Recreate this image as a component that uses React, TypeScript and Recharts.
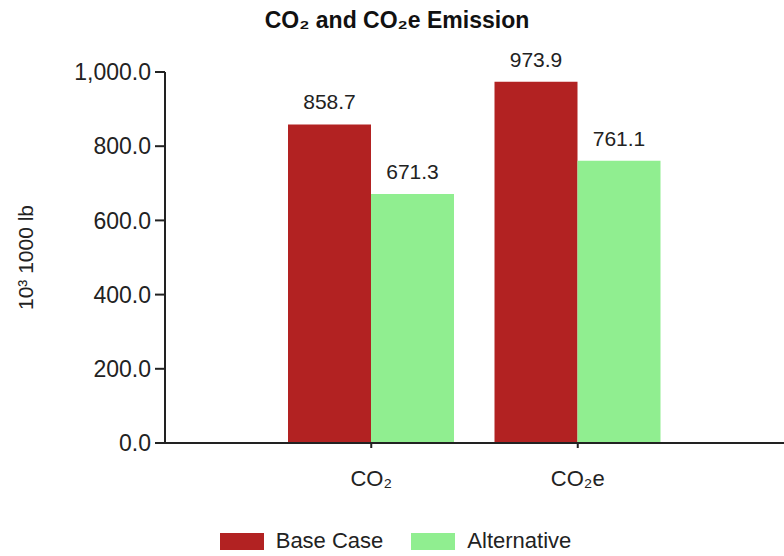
import * as React from "react";
import { Bar, BarChart, LabelList, Legend, XAxis, YAxis, Label } from "recharts";

const categories = ["CO₂", "CO₂e"];
const baseCase = [858.7, 973.9];
const alternative = [671.3, 761.1];
const yTicks = [0, 200, 400, 600, 800, 1000];

const data = categories.map((name, i) => ({
    name,
    base: baseCase[i],
    alt: alternative[i],
}));

const font = "'Liberation Sans', Arial, sans-serif";
const RED = "#B22222";
const GREEN = "#90EE90";

const fmt = (v: number) =>
    v.toLocaleString("en-US", { minimumFractionDigits: 1, maximumFractionDigits: 1 });

const YLabel = (props: any) => {
    const vb = props.viewBox || {};
    const cy = (vb.y || 0) + (vb.height || 0) / 2;
    return (
        <text
            x={25}
            y={cy}
            transform={`rotate(-90, 25, ${cy})`}
            textAnchor="middle"
            dominantBaseline="central"
            fontSize={21}
            fontFamily={font}
            fill="#222"
        >
            10³ 1000 lb
        </text>
    );
};

const LegendBox = () => {
    const items = [
        { label: "Base Case", color: RED },
        { label: "Alternative", color: GREEN },
    ];
    return (
        <div
            style={{
                display: "flex",
                justifyContent: "center",
                alignItems: "center",
                paddingLeft: 7,
                fontFamily: font,
                fontSize: 22,
                color: "#222",
            }}
        >
            {items.map((it, i) => (
                <div
                    key={it.label}
                    style={{ display: "flex", alignItems: "center", marginLeft: i ? 28 : 0 }}
                >
                    <div style={{ width: 44, height: 17, background: it.color, marginRight: 12 }} />
                    <span>{it.label}</span>
                </div>
            ))}
        </div>
    );
};

export default function App() {
    return (
        <div style={{ position: "absolute", left: 0, top: 0, background: "#fff" }}>
            <div
                style={{
                    position: "absolute",
                    left: 0,
                    top: 7,
                    width: 784,
                    textAlign: "center",
                    fontFamily: font,
                    fontWeight: "bold",
                    fontSize: 23,
                    color: "#111",
                    paddingLeft: 10,
                    boxSizing: "border-box",
                }}
            >
                CO₂ and CO₂e Emission
            </div>
            <BarChart
                width={784}
                height={556}
                data={data}
                margin={{ top: 72, right: 0, left: 0, bottom: 73 }}
                barCategoryGap={20}
                barGap={0}
            >
                <XAxis
                    dataKey="name"
                    height={40}
                    padding={{ left: 103, right: 103 }}
                    tickSize={5}
                    tickMargin={22}
                    axisLine={{ stroke: "#222", strokeWidth: 2 }}
                    tickLine={{ stroke: "#222", strokeWidth: 2 }}
                    tick={{ fontSize: 22, fontFamily: font, fill: "#222" }}
                />
                <YAxis
                    width={165}
                    domain={[0, 1000]}
                    ticks={yTicks}
                    interval={0}
                    tickFormatter={fmt}
                    tickSize={10}
                    tickMargin={4}
                    axisLine={{ stroke: "#222", strokeWidth: 2 }}
                    tickLine={{ stroke: "#222", strokeWidth: 2 }}
                    tick={{ fontSize: 23, fontFamily: font, fill: "#222" }}
                >
                    <Label content={<YLabel />} />
                </YAxis>
                <Legend
                    layout="horizontal"
                    verticalAlign="middle"
                    align="center"
                    wrapperStyle={{ top: 528, left: 0, width: 784 }}
                    content={<LegendBox />}
                />
                <Bar dataKey="base" name="Base Case" fill={RED} isAnimationActive={false}>
                    <LabelList
                        dataKey="base"
                        position="top"
                        offset={15}
                        formatter={(v: any) => fmt(Number(v))}
                        style={{ fontSize: 21, fontFamily: font, fill: "#222" }}
                    />
                </Bar>
                <Bar dataKey="alt" name="Alternative" fill={GREEN} isAnimationActive={false}>
                    <LabelList
                        dataKey="alt"
                        position="top"
                        offset={15}
                        formatter={(v: any) => fmt(Number(v))}
                        style={{ fontSize: 21, fontFamily: font, fill: "#222" }}
                    />
                </Bar>
            </BarChart>
        </div>
    );
}
